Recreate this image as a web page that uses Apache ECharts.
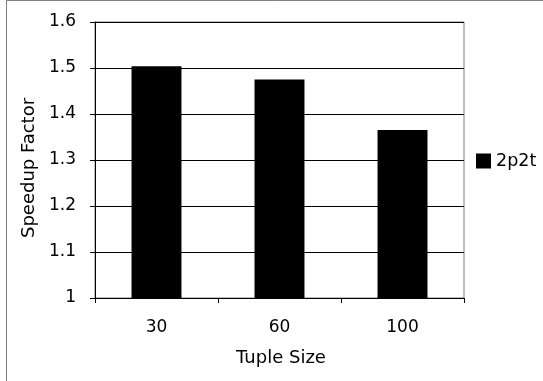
<!DOCTYPE html>
<html><head><meta charset="utf-8">
<script src="https://cdn.jsdelivr.net/npm/echarts@6/dist/echarts.min.js"></script>
<style>html,body{margin:0;padding:0;background:#fff}#c{width:543px;height:381px}</style>
</head><body><div id="c"></div>
<script>
const categories = ['30', '60', '100'];
const seriesName = '2p2t';
const values = [1.504, 1.475, 1.365];
const yTicks = [1, 1.1, 1.2, 1.3, 1.4, 1.5, 1.6];

const chart = echarts.init(document.getElementById('c'), null, {renderer: 'canvas'});
const font = 'DejaVu Sans';
chart.setOption({
  animation: false,
  backgroundColor: '#fff',
  textStyle: {fontFamily: font},
  graphic: [{type: 'rect', shape: {x: 6.5, y: 0.5, width: 700, height: 500}, style: {fill: 'none', stroke: '#808080', lineWidth: 1}, silent: true, z: -1}],
  grid: {left: 95, right: 79, top: 22, bottom: 83, show: true, borderColor: '#808080', borderWidth: 1, backgroundColor: 'transparent'},
  legend: {
    show: true, orient: 'vertical', left: 476, top: 152, padding: 0,
    itemWidth: 15, itemHeight: 15, itemGap: 5,
    icon: 'rect',
    textStyle: {fontFamily: font, fontSize: 17.5, color: '#000'},
    data: [seriesName]
  },
  xAxis: {
    type: 'category', data: categories,
    name: 'Tuple Size', nameLocation: 'middle', nameGap: 51,
    nameTextStyle: {fontFamily: font, fontSize: 18, color: '#000', padding: [0, 0, 0, 3]},
    axisLine: {lineStyle: {color: '#000', width: 1}},
    axisTick: {show: true, alignWithLabel: false, length: 5, lineStyle: {color: '#000'}},
    axisLabel: {fontFamily: font, fontSize: 17, color: '#000', margin: 21}
  },
  yAxis: {
    type: 'value', min: 1, max: 1.6, interval: 0.1,
    name: 'Speedup Factor', nameLocation: 'middle', nameGap: 57, nameRotate: 90,
    nameTextStyle: {fontFamily: font, fontSize: 18, color: '#000', padding: [0, 16, 0, 0]},
    axisLine: {show: true, lineStyle: {color: '#000', width: 1}},
    axisTick: {show: true, length: 5, lineStyle: {color: '#000'}},
    splitLine: {show: true, lineStyle: {color: '#000', width: 1}},
    axisLabel: {fontFamily: font, fontSize: 17, color: '#000', margin: 19,
      formatter: v => { const t = yTicks.find(x => Math.abs(x - v) < 1e-6); return t === undefined ? '' : String(t); }}
  },
  series: [{
    type: 'bar', name: seriesName, data: values,
    barWidth: '40.6%',
    itemStyle: {color: '#000'}
  }]
});
</script></body></html>
